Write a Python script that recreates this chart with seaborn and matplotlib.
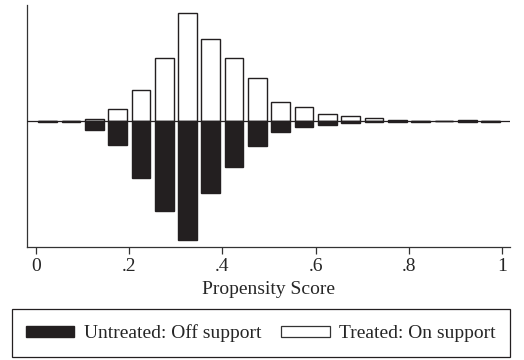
import numpy as np
import pandas as pd
import matplotlib
matplotlib.use("Agg")
import matplotlib.pyplot as plt
import seaborn as sns
from matplotlib.patches import Patch, Rectangle

# bin centres of the propensity score histogram (width .05)
bin_centers = [0.025, 0.075, 0.125, 0.175, 0.225, 0.275, 0.325, 0.375, 0.425, 0.475,
               0.525, 0.575, 0.625, 0.675, 0.725, 0.775, 0.825, 0.875, 0.925, 0.975]
# frequencies (arbitrary units)
treated_on = [1, 1, 4, 25, 63, 127, 216, 164, 126, 86,
              39, 28, 15, 10, 6, 2, 1, 0, 2, 1]
untreated_off = [1, 2, 18, 48, 114, 180, 238, 144, 92, 51,
                 22, 13, 7, 3, 1, 1, 2, 0, 1, 2]
tick_vals = [0, 0.2, 0.4, 0.6, 0.8, 1]
tick_labels = ["0", ".2", ".4", ".6", ".8", "1"]

df = pd.DataFrame({"ps": bin_centers,
                   "treated": treated_on,
                   "untreated": [-v for v in untreated_off]})

sns.set_style("white")
plt.rcParams["font.family"] = ["Liberation Serif", "DejaVu Serif"]

fig = plt.figure(figsize=(5.24, 3.6), dpi=100)
ax = fig.add_axes([0.0515, 0.314, 0.922, 0.672])

dark = "#231f20"
sns.barplot(data=df, x="ps", y="treated", native_scale=True, width=0.8,
            color="white", edgecolor=dark, linewidth=1.0, saturation=1,
            errorbar=None, ax=ax)
sns.barplot(data=df, x="ps", y="untreated", native_scale=True, width=0.8,
            color=dark, edgecolor=dark, linewidth=1.0, saturation=1,
            errorbar=None, ax=ax)
ax.axhline(0, color=dark, lw=0.9, zorder=5)

ax.set_xlim(-0.0193, 1.017)
ax.set_ylim(-252, 232)
ax.set_xticks(tick_vals)
ax.set_xticklabels(tick_labels, fontsize=14)
ax.set_yticks([])
ax.tick_params(axis="x", direction="out", length=5, width=0.9, color="#333333", pad=3,
               bottom=True)
ax.set_xlabel("Propensity Score", fontsize=14, labelpad=4)
ax.set_ylabel("")

for side in ["top", "right"]:
    ax.spines[side].set_visible(False)
for side in ["left", "bottom"]:
    ax.spines[side].set_color("#333333")
    ax.spines[side].set_linewidth(0.9)

handles = [Patch(facecolor=dark, edgecolor=dark, label="Untreated: Off support"),
           Patch(facecolor="white", edgecolor="#333333", linewidth=0.9, label="Treated: On support")]
leg = fig.legend(handles=handles, loc="center", bbox_to_anchor=(0.4977, 0.074), ncol=2,
                 fontsize=14, frameon=False, handlelength=2.5,
                 handleheight=0.52, handletextpad=0.5, columnspacing=1.0,
                 borderpad=0.6)
# legend box drawn separately (taller than matplotlib's padding allows)
fig.add_artist(Rectangle((0.0223, 0.0075), 0.951, 0.133, transform=fig.transFigure,
                         fill=False, edgecolor=dark, linewidth=0.9))

fig.savefig("out.png", dpi=100)
